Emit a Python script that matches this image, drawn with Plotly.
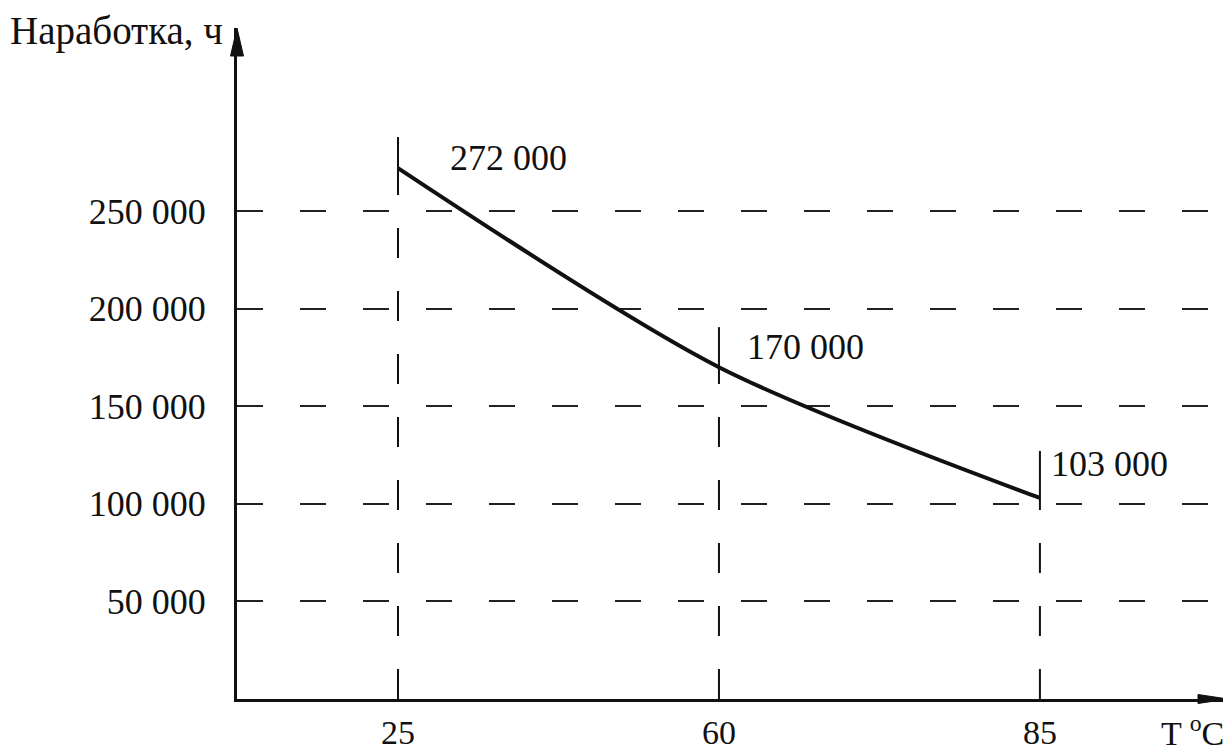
import plotly.graph_objects as go

# ---- data ----
temps = ["25", "60", "85"]
hours = [272000, 170000, 103000]
value_labels = ["272 000", "170 000", "103 000"]
y_tick_vals = [50000, 100000, 150000, 200000, 250000]
y_tick_text = ["50 000", "100 000", "150 000", "200 000", "250 000"]

# ---- style ----
FONT = "Liberation Serif"
FS = 36
INK = "#111111"
tick_len_px = [31, 40, 47]           # short solid tick above each point
label_shift = [(50, 10), (26, 20), (9, 34)]  # pixel offsets for value labels

fig = go.Figure()
fig.add_trace(go.Scatter(
    x=temps, y=hours, mode="lines",
    line=dict(color=INK, width=4, shape="spline", smoothing=0.8),
    hoverinfo="skip", showlegend=False,
))

shapes = []
for i, (h, tl) in enumerate(zip(hours, tick_len_px)):
    # dashed drop line from axis to the point (category index i)
    shapes.append(dict(type="line", xref="x", yref="y", x0=i, x1=i, y0=0, y1=h,
                       line=dict(color=INK, width=2, dash="30px,33px")))
    # short solid tick above the point
    shapes.append(dict(type="line", xref="x", yref="y", x0=i, x1=i,
                       ysizemode="pixel", yanchor=h, y0=0, y1=tl,
                       line=dict(color=INK, width=2)))

# axis arrowheads
shapes.append(dict(type="path", xref="paper", yref="paper",
                   xsizemode="pixel", ysizemode="pixel", xanchor=0, yanchor=1,
                   path="M-6.5,-28 L0,0 L6.5,-28 Z",
                   fillcolor=INK, line=dict(color=INK, width=1)))
shapes.append(dict(type="path", xref="paper", yref="paper",
                   xsizemode="pixel", ysizemode="pixel", xanchor=1, yanchor=0,
                   path="M-30,-4.5 L0,0 L-30,4.5 Z",
                   fillcolor=INK, line=dict(color=INK, width=1)))

annotations = []
for i, (h, lab, (dx, dy)) in enumerate(zip(hours, value_labels, label_shift)):
    annotations.append(dict(x=i, y=h, xref="x", yref="y", text=lab, showarrow=False,
                            xanchor="left", yanchor="middle", xshift=dx, yshift=dy,
                            font=dict(family=FONT, size=FS, color=INK)))

annotations.append(dict(x=-0.231, y=0.9955, xref="paper", yref="paper",
                        text="Наработка, ч", showarrow=False,
                        xanchor="left", yanchor="middle",
                        font=dict(family=FONT, size=39, color=INK)))
annotations.append(dict(x=1, y=0, xref="paper", yref="paper",
                        text="T <sup>o</sup>C", showarrow=False,
                        xanchor="right", yanchor="top", yshift=-9, xshift=-2,
                        font=dict(family=FONT, size=34, color=INK)))

fig.update_layout(
    width=1223, height=746,
    margin=dict(l=229, r=3, t=20, b=55),
    paper_bgcolor="white", plot_bgcolor="white",
    shapes=shapes, annotations=annotations,
    font=dict(family=FONT, size=FS, color=INK),
    xaxis=dict(type="category", range=[-0.5016, 2.586],
               showgrid=False, zeroline=False,
               showline=True, linecolor=INK, linewidth=3,
               ticks="", tickfont=dict(family=FONT, size=34, color=INK),
               ticklabelstandoff=1, automargin=False),
    yaxis=dict(range=[0, 343750], tickvals=y_tick_vals, ticktext=y_tick_text,
               showgrid=True, gridcolor="#222222", gridwidth=2, griddash="26px,37px",
               zeroline=False, showline=True, linecolor=INK, linewidth=3,
               ticks="", tickfont=dict(family=FONT, size=FS, color=INK),
               ticklabelstandoff=21, automargin=False),
)

fig.write_html("out.html")
